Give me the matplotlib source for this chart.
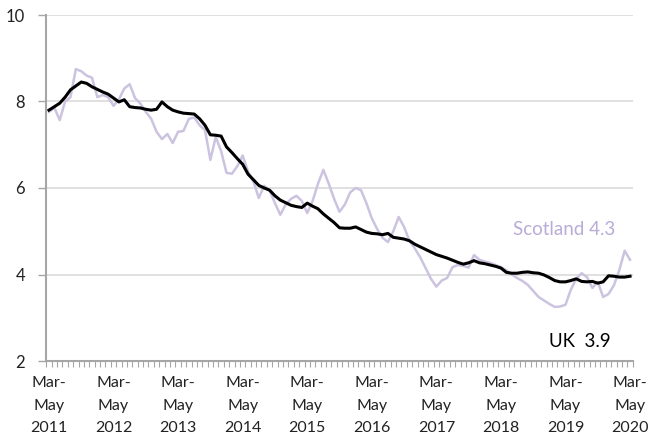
import matplotlib
matplotlib.use("Agg")
import matplotlib.pyplot as plt
import numpy as np

# Monthly rolling 3-month periods, Mar-May 2011 .. Mar-May 2020
tick_labels = ["Mar-\nMay\n2011", "Mar-\nMay\n2012", "Mar-\nMay\n2013", "Mar-\nMay\n2014",
               "Mar-\nMay\n2015", "Mar-\nMay\n2016", "Mar-\nMay\n2017", "Mar-\nMay\n2018",
               "Mar-\nMay\n2019", "Mar-\nMay\n2020"]

uk = [7.8, 7.88, 7.96, 8.1, 8.27, 8.36, 8.45, 8.42, 8.34, 8.28,
      8.22, 8.17, 8.08, 7.99, 8.04, 7.88, 7.86, 7.85, 7.82, 7.8,
      7.82, 7.99, 7.88, 7.8, 7.76, 7.73, 7.72, 7.71, 7.6, 7.45,
      7.23, 7.22, 7.2, 6.95, 6.82, 6.68, 6.55, 6.32, 6.19, 6.06,
      6.0, 5.95, 5.82, 5.72, 5.66, 5.6, 5.57, 5.55, 5.65, 5.58,
      5.52, 5.4, 5.3, 5.2, 5.08, 5.07, 5.07, 5.1, 5.04, 4.98,
      4.95, 4.94, 4.92, 4.95, 4.86, 4.84, 4.82, 4.78, 4.7, 4.64,
      4.58, 4.52, 4.46, 4.42, 4.38, 4.33, 4.28, 4.24, 4.27, 4.32,
      4.27, 4.25, 4.22, 4.19, 4.15, 4.05, 4.03, 4.03, 4.05, 4.06,
      4.04, 4.03, 3.99, 3.93, 3.86, 3.83, 3.83, 3.86, 3.9, 3.84,
      3.83, 3.84, 3.8, 3.83, 3.97, 3.96, 3.94, 3.94, 3.96]

scotland = [7.76, 7.86, 7.57, 8.0, 8.1, 8.75, 8.7, 8.6, 8.55, 8.1,
            8.15, 8.1, 7.9, 8.05, 8.3, 8.4, 8.08, 7.95, 7.76, 7.6,
            7.3, 7.13, 7.25, 7.04, 7.3, 7.32, 7.6, 7.63, 7.45, 7.34,
            6.65, 7.18, 6.85, 6.35, 6.33, 6.5, 6.75, 6.38, 6.15, 5.77,
            6.05, 5.95, 5.65, 5.38, 5.62, 5.75, 5.82, 5.7, 5.42, 5.7,
            6.1, 6.42, 6.1, 5.75, 5.45, 5.62, 5.9, 6.0, 5.95, 5.65,
            5.3, 5.05, 4.85, 4.75, 5.0, 5.33, 5.1, 4.78, 4.6, 4.4,
            4.15, 3.9, 3.72, 3.86, 3.92, 4.17, 4.22, 4.2, 4.16, 4.45,
            4.34, 4.3, 4.27, 4.22, 4.17, 4.1, 4.0, 3.92, 3.85, 3.76,
            3.62, 3.48, 3.4, 3.32, 3.25, 3.26, 3.3, 3.65, 3.9, 4.03,
            3.94, 3.69, 3.83, 3.48, 3.55, 3.75, 4.1, 4.55, 4.34]

yticks = [2, 4, 6, 8, 10]

scot_color = "#CCC3E0"
scot_text = "#B9ACD6"
axis_gray = "#A6A6A6"
grid_gray = "#DADADA"

plt.rcParams['font.family'] = ['Lato', 'DejaVu Sans']

fig = plt.figure(figsize=(6.48, 4.36), dpi=100)
ax = fig.add_axes([46/648, 1-361/436, (633-46)/648, (361-15)/436])

x = np.arange(len(uk))
ax.plot(x, scotland, color=scot_color, lw=1.8, solid_joinstyle='round', zorder=2)
ax.plot(x, uk, color="black", lw=2.2, solid_joinstyle='round', zorder=3)

ax.set_ylim(2, 10)
ax.set_xlim(-0.55, len(uk) - 0.45)
ax.set_yticks(yticks)
ax.set_yticklabels([str(v) for v in yticks], fontsize=12, color="#222222")
for v in yticks[1:]:
    ax.axhline(v, color=grid_gray, lw=1.2, zorder=1)

ax.set_xticks(np.arange(0, len(uk), 12))
ax.set_xticklabels(tick_labels, fontsize=11.5, color="#222222", linespacing=1.75)
ax.set_xticks(np.arange(-0.5, len(uk), 1), minor=True)
ax.tick_params(axis='x', which='major', length=0, pad=11)
ax.tick_params(axis='x', which='minor', length=4, width=0.8, color=axis_gray, direction='out')
ax.tick_params(axis='y', length=6, width=1, color=axis_gray, direction='out', pad=9)

for s in ['top', 'right']:
    ax.spines[s].set_visible(False)
for s in ['left', 'bottom']:
    ax.spines[s].set_color(axis_gray)
    ax.spines[s].set_linewidth(1.5)

ax.text(0.97, 0.379, "Scotland 4.3", transform=ax.transAxes, fontsize=13.5,
        color=scot_text, ha='right', va='center')
ax.text(0.962, 0.055, "UK  3.9", transform=ax.transAxes, fontsize=13.5,
        color="black", ha='right', va='center')

fig.savefig("out.png", dpi=100)
